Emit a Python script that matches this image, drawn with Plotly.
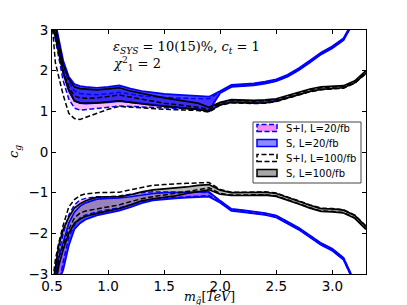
import plotly.graph_objects as go

# shared mass grid (TeV)
X = [0.5, 0.53, 0.56, 0.6, 0.65, 0.7, 0.75, 0.8, 0.9, 1.0, 1.1, 1.2, 1.3, 1.4, 1.5, 1.6, 1.7,
     1.8, 1.9, 2.0, 2.1, 2.2, 2.3, 2.4, 2.5, 2.6, 2.7, 2.8, 2.9, 3.0, 3.1, 3.2, 3.3]

# ---- upper branch (c_g > 0) ----
s20_up_hi = [3.6, 3.2, 2.8, 2.25, 1.85, 1.67, 1.62, 1.6, 1.58, 1.6, 1.64, 1.56, 1.5, 1.46, 1.43, 1.41, 1.39,
             1.37, 1.36, 1.5, 1.65, 1.67, 1.69, 1.73, 1.79, 1.9, 2.06, 2.25, 2.45, 2.6, 2.8, 3.3, 3.8]
s20_up_lo = [3.3, 2.85, 2.5, 1.95, 1.5, 1.25, 1.2, 1.19, 1.2, 1.22, 1.25, 1.22, 1.19, 1.16, 1.13, 1.1, 1.08,
             1.05, 1.02, 1.45, 1.6, 1.62, 1.64, 1.68, 1.74, 1.85, 2.01, 2.2, 2.4, 2.55, 2.75, 3.25, 3.75]
# thin lower strip of the S, L=20 band above 1.9 TeV
s20_up_b_x = [1.9, 2.0, 2.1, 2.2, 2.3, 2.4, 2.5, 2.6]
s20_up_b_lo = [1.0, 1.16, 1.22, 1.21, 1.2, 1.21, 1.25, 1.33]
s20_up_b_hi = [1.1, 1.22, 1.29, 1.28, 1.27, 1.28, 1.31, 1.33]

si20_up_hi = [3.5, 3.1, 2.65, 2.12, 1.72, 1.5, 1.44, 1.42, 1.41, 1.43, 1.47, 1.42, 1.38, 1.36, 1.34, 1.33, 1.32,
              1.31, 1.31, 1.48, 1.63, 1.65, 1.67, 1.71, 1.77, 1.88, 2.04, 2.23, 2.43, 2.58, 2.78, 3.28, 3.78]
si20_up_lo = [3.2, 2.75, 2.3, 1.75, 1.3, 1.08, 1.03, 1.04, 1.07, 1.1, 1.13, 1.12, 1.11, 1.1, 1.09, 1.08, 1.07,
              1.05, 1.02, 1.45, 1.61, 1.63, 1.65, 1.69, 1.75, 1.86, 2.02, 2.21, 2.41, 2.56, 2.76, 3.26, 3.76]

s100_up_hi = [3.5, 3.1, 2.7, 2.15, 1.8, 1.6, 1.56, 1.55, 1.53, 1.55, 1.58, 1.5, 1.44, 1.38, 1.33, 1.29, 1.25,
              1.2, 1.1, 1.22, 1.29, 1.28, 1.27, 1.28, 1.31, 1.39, 1.47, 1.55, 1.6, 1.61, 1.63, 1.75, 2.0]
s100_up_lo = [3.2, 2.8, 2.45, 1.95, 1.52, 1.26, 1.21, 1.2, 1.21, 1.23, 1.26, 1.22, 1.18, 1.15, 1.12, 1.1, 1.08,
              1.05, 1.0, 1.16, 1.22, 1.21, 1.2, 1.21, 1.25, 1.33, 1.41, 1.49, 1.54, 1.56, 1.58, 1.7, 1.94]

si100_up_hi = [3.3, 2.95, 2.5, 1.98, 1.6, 1.38, 1.33, 1.32, 1.33, 1.36, 1.4, 1.35, 1.3, 1.25, 1.2, 1.17, 1.14,
               1.1, 1.05, 1.2, 1.27, 1.26, 1.25, 1.26, 1.29, 1.37, 1.45, 1.53, 1.58, 1.59, 1.61, 1.73, 1.98]
si100_up_lo = [3.2, 2.2, 1.85, 1.4, 0.95, 0.82, 0.8, 0.85, 0.95, 1.05, 1.12, 1.1, 1.08, 1.06, 1.05, 1.04, 1.03,
               1.02, 0.98, 1.15, 1.21, 1.2, 1.19, 1.2, 1.24, 1.32, 1.4, 1.48, 1.53, 1.55, 1.57, 1.69, 1.93]

# ---- lower branch (c_g < 0) ----
s20_lo_hi = [-3.4, -3.1, -2.6, -2.2, -1.75, -1.48, -1.33, -1.25, -1.16, -1.14, -1.13, -1.1, -1.06, -1.02, -1.0,
             -1.0, -0.99, -0.98, -0.98, -1.2, -1.4, -1.43, -1.46, -1.5, -1.56, -1.7, -1.86, -2.05, -2.24, -2.38,
             -2.6, -3.2, -3.7]
s20_lo_lo = [-3.6, -3.4, -3.2, -2.9, -2.3, -1.9, -1.75, -1.66, -1.56, -1.5, -1.44, -1.36, -1.26, -1.19, -1.16,
             -1.14, -1.12, -1.11, -1.1, -1.25, -1.45, -1.48, -1.51, -1.55, -1.61, -1.75, -1.91, -2.1, -2.29, -2.43,
             -2.65, -3.25, -3.75]

si20_lo_hi = [-3.4, -3.0, -2.5, -2.0, -1.55, -1.3, -1.18, -1.14, -1.1, -1.1, -1.08, -1.04, -1.0, -0.98, -0.98,
              -0.98, -0.98, -0.99, -1.0, -1.21, -1.41, -1.44, -1.47, -1.51, -1.57, -1.71, -1.87, -2.06, -2.25,
              -2.39, -2.61, -3.21, -3.71]
si20_lo_lo = [-3.6, -3.4, -3.3, -2.7, -2.1, -1.8, -1.62, -1.55, -1.47, -1.42, -1.37, -1.3, -1.22, -1.16, -1.13,
              -1.12, -1.1, -1.08, -1.07, -1.24, -1.44, -1.47, -1.5, -1.54, -1.6, -1.74, -1.9, -2.09, -2.28, -2.42,
              -2.64, -3.24, -3.74]

s100_lo_hi = [-3.4, -2.9, -2.3, -1.9, -1.6, -1.38, -1.27, -1.2, -1.11, -1.1, -1.1, -1.05, -0.98, -0.93, -0.9,
              -0.88, -0.86, -0.82, -0.8, -0.94, -1.0, -1.0, -0.99, -0.99, -1.02, -1.11, -1.21, -1.31, -1.39,
              -1.4, -1.43, -1.56, -1.83]
s100_lo_lo = [-3.6, -3.3, -2.8, -2.4, -2.0, -1.75, -1.65, -1.58, -1.51, -1.45, -1.39, -1.3, -1.2, -1.15, -1.12,
              -1.08, -1.02, -0.97, -0.93, -1.04, -1.07, -1.07, -1.06, -1.06, -1.09, -1.18, -1.28, -1.38, -1.46,
              -1.47, -1.5, -1.63, -1.9]

si100_lo_hi = [-3.3, -2.65, -2.24, -1.8, -1.35, -1.17, -1.07, -1.03, -1.0, -1.0, -0.99, -0.93, -0.87, -0.82,
               -0.8, -0.78, -0.77, -0.76, -0.75, -0.92, -0.99, -0.99, -0.98, -0.98, -1.01, -1.1, -1.2, -1.3, -1.38,
               -1.39, -1.42, -1.55, -1.82]
si100_lo_lo = [-3.5, -3.2, -2.6, -2.3, -1.9, -1.62, -1.5, -1.45, -1.4, -1.35, -1.3, -1.22, -1.15, -1.1, -1.06,
               -1.02, -0.98, -0.93, -0.88, -1.02, -1.06, -1.06, -1.05, -1.05, -1.08, -1.17, -1.27, -1.37, -1.45,
               -1.46, -1.49, -1.62, -1.89]

x_ticks = [0.5, 1.0, 1.5, 2.0, 2.5, 3.0]
x_ticktext = ["0.5", "1.0", "1.5", "2.0", "2.5", "3.0"]
y_ticks = [-3, -2, -1, 0, 1, 2, 3]

legend_keys = ["si20", "s20", "si100", "s100"]
legend_labels = ["S+I, L=20/fb", "S, L=20/fb", "S+I, L=100/fb", "S, L=100/fb"]

DASH = "5px,2.5px"
style = {
    "si20": dict(fill="rgba(245,120,245,0.5)", line=dict(color="#0000ff", width=1.5, dash=DASH)),
    "s20": dict(fill="rgba(0,0,255,0.72)", line=dict(color="#0000ff", width=1.7)),
    "si100": dict(fill="rgba(255,255,255,0)", line=dict(color="#000000", width=1.5, dash=DASH)),
    "s100": dict(fill="rgba(150,150,150,0.65)", line=dict(color="#000000", width=1.7)),
}
legend_fill = {"si20": "#f58cf5", "s20": "#8c8cff", "si100": "white", "s100": "#a8a8a8"}

fig = go.Figure()


def add_band(key, x, lo, hi):
    st = style[key]
    fig.add_trace(go.Scatter(
        x=list(x) + list(x)[::-1], y=list(hi) + list(lo)[::-1],
        fill="toself", fillcolor=st["fill"], mode="lines",
        line=dict(width=0, color=st["fill"]), showlegend=False, hoverinfo="skip"))


def add_edges(key, x, lo, hi):
    st = style[key]
    for arr in (lo, hi):
        fig.add_trace(go.Scatter(x=x, y=arr, mode="lines", line=st["line"],
                                 showlegend=False, hoverinfo="skip"))


# upper branch fills
add_band("s100", X, s100_up_lo, s100_up_hi)
add_band("si20", X, si20_up_lo, si20_up_hi)
add_band("s20", X, s20_up_lo, s20_up_hi)
add_band("s20", s20_up_b_x, s20_up_b_lo, s20_up_b_hi)
# lower branch fills
add_band("s20", X, s20_lo_lo, s20_lo_hi)
add_band("si20", X, si20_lo_lo, si20_lo_hi)
add_band("s100", X, s100_lo_lo, s100_lo_hi)

# edges on top
add_edges("s20", X, s20_up_lo, s20_up_hi)
add_edges("si20", X, si20_up_lo, si20_up_hi)
add_edges("s100", X, s100_up_lo, s100_up_hi)
add_edges("si100", X, si100_up_lo, si100_up_hi)
add_edges("s20", X, s20_lo_lo, s20_lo_hi)
add_edges("si20", X, si20_lo_lo, si20_lo_hi)
add_edges("s100", X, s100_lo_lo, s100_lo_hi)
add_edges("si100", X, si100_lo_lo, si100_lo_hi)

serif = "DejaVu Serif"
axis_common = dict(showline=True, linecolor="black", linewidth=1, mirror="ticks", ticks="inside",
                   ticklen=4, tickcolor="black", showgrid=False, zeroline=False,
                   tickfont=dict(family="DejaVu Sans", size=13.5, color="black"))

L, R, T, B = 52, 41, 30, 31
W, H = 407, 305
PW, PH = W - L - R, H - T - B

fig.update_layout(
    width=W, height=H,
    margin=dict(l=L, r=R, t=T, b=B),
    paper_bgcolor="white", plot_bgcolor="white",
    showlegend=False,
    xaxis=dict(range=[0.5, 3.3], tickvals=x_ticks, ticktext=x_ticktext, **axis_common),
    yaxis=dict(range=[-3, 3], tickvals=y_ticks, **axis_common),
)


def px_x(p):
    return (p - L) / PW


def px_y(p):
    return (H - B - p) / PH


# manual matplotlib-style legend
shapes = [dict(type="rect", xref="paper", yref="paper", x0=px_x(253), x1=px_x(361), y0=px_y(183), y1=px_y(122),
               fillcolor="white", line=dict(color="#444444", width=1), layer="above")]
for i, (k, lab) in enumerate(zip(legend_keys, legend_labels)):
    yc = 128 + 15 * i
    st = style[k]
    shapes.append(dict(type="rect", xref="paper", yref="paper", x0=px_x(257), x1=px_x(277),
                       y0=px_y(yc + 3.5), y1=px_y(yc - 3.5), fillcolor=legend_fill[k],
                       line=dict(color=st["line"]["color"], width=1.5, dash=st["line"].get("dash", "solid")),
                       layer="above"))
    fig.add_annotation(xref="paper", yref="paper", x=px_x(284), y=px_y(yc), xanchor="left", yanchor="middle",
                       showarrow=False, text=lab, font=dict(family="DejaVu Sans", size=10, color="black"))
fig.update_layout(shapes=shapes)

fig.add_annotation(xref="paper", yref="paper", x=px_x(111), y=px_y(47), xanchor="left", yanchor="middle",
                   showarrow=False, align="left",
                   text="<i>ε</i><sub><i>SYS</i></sub> = 10(15)%, <i>c</i><sub><i>t</i></sub> = 1",
                   font=dict(family=serif, size=13, color="black"))
fig.add_annotation(xref="paper", yref="paper", x=px_x(111), y=px_y(64), xanchor="left", yanchor="middle",
                   showarrow=False, align="left",
                   text="<i>χ</i><sup>2</sup><sub>1</sub> = 2",
                   font=dict(family=serif, size=13, color="black"))
fig.add_annotation(xref="paper", yref="paper", x=px_x(209), y=px_y(297.5), xanchor="center", yanchor="middle",
                   showarrow=False,
                   text="<i>m</i><sub><i>g̃</i></sub>[<i>TeV</i>]",
                   font=dict(family=serif, size=12.5, color="black"))
fig.add_annotation(xref="paper", yref="paper", x=px_x(14), y=px_y(152), xanchor="center", yanchor="middle",
                   showarrow=False, textangle=-90,
                   text="<i>c</i><sub><i>g</i></sub>",
                   font=dict(family=serif, size=13, color="black"))

fig.write_html("out.html", config={"displayModeBar": False},
               post_script="document.body.style.margin='0';")
